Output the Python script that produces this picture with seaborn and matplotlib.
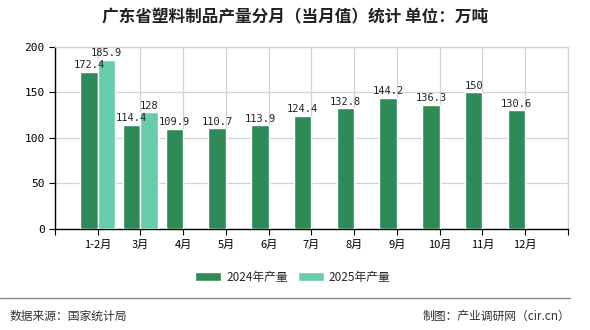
import numpy as np
import pandas as pd
import matplotlib
matplotlib.use("Agg")
import matplotlib.pyplot as plt
import seaborn as sns

months = ["1-2月", "3月", "4月", "5月", "6月", "7月", "8月", "9月", "10月", "11月", "12月"]
values_2024 = [172.4, 114.4, 109.9, 110.7, 113.9, 124.4, 132.8, 144.2, 136.3, 150, 130.6]
values_2025 = [185.9, 128, None, None, None, None, None, None, None, None, None]
series_names = ["2024年产量", "2025年产量"]
colors = ["#2E8B57", "#66CDAA"]

sns.set_theme(style="white")
plt.rcParams['font.family'] = ['Noto Sans CJK SC', 'DejaVu Sans']

rows = []
for m, a, b in zip(months, values_2024, values_2025):
    rows.append({"月份": m, "系列": series_names[0], "值": a})
    rows.append({"月份": m, "系列": series_names[1], "值": np.nan if b is None else b})
df = pd.DataFrame(rows)

fig = plt.figure(figsize=(5.9, 3.3), dpi=100)
ax = fig.add_axes([0.0932, 0.306, 0.8695, 0.5525])

sns.barplot(data=df, x="月份", y="值", hue="系列", order=months, hue_order=series_names,
            palette=colors, width=0.82, saturation=1, ax=ax, legend=True, zorder=3)

for cont in ax.containers:
    labels = []
    for v in cont.datavalues:
        if np.isnan(v):
            labels.append("")
        else:
            labels.append(f"{v:g}")
    ax.bar_label(cont, labels=labels, padding=1, fontsize=7.5, family=['DejaVu Sans Mono'], color="#222222")

ax.set_xlim(-1, 11)
ax.set_ylim(0, 200)
ax.set_yticks([0, 50, 100, 150, 200])
ax.set_xticks(list(range(-1, 12)))
ax.set_xticklabels([""] + months + [""])
ax.set_xlabel("")
ax.set_ylabel("")
ax.grid(True, color="#d3d3d3", linewidth=0.9, zorder=0)
ax.set_axisbelow(True)
for s in ["top", "right"]:
    ax.spines[s].set_color("#d3d3d3")
    ax.spines[s].set_linewidth(0.9)
for s in ["left", "bottom"]:
    ax.spines[s].set_color("black")
    ax.spines[s].set_linewidth(1.0)
ax.tick_params(axis="both", which="both", direction="out", length=4, width=0.8, colors="black",
               labelsize=8, bottom=True, left=True)
for lab in ax.get_yticklabels():
    lab.set_family(['DejaVu Sans Mono'])

leg = ax.legend(loc="center", bbox_to_anchor=(0.5 + (293 - 55 - 0.5 * 513) / 513, -0.265),
                ncol=2, frameon=False, fontsize=8.5, handlelength=2.2, handleheight=0.8,
                columnspacing=0.9, handletextpad=0.4)

fig.text(0.5, 0.948, "广东省塑料制品产量分月（当月值）统计 单位：万吨", ha="center", va="center",
         fontsize=12, fontweight="bold", color="#222222")

fig.add_artist(plt.Line2D([0, 570 / 590], [1 - 298 / 330, 1 - 298 / 330], color="#888888", linewidth=1.0))
fig.text(10 / 590, 1 - 316 / 330, "数据来源：国家统计局", ha="left", va="center", fontsize=8.5, color="#333333")
fig.text(570 / 590, 1 - 316 / 330, "制图：产业调研网（cir.cn）", ha="right", va="center", fontsize=8.5, color="#333333")

fig.savefig("out.png", dpi=100, facecolor="white")
